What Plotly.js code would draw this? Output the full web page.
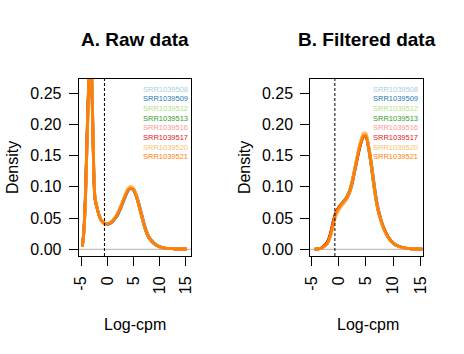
<!DOCTYPE html>
<html><head><meta charset="utf-8">
<script src="https://cdn.plot.ly/plotly-3.0.1.min.js"></script>
<style>html,body{margin:0;padding:0;background:#fff;}#chart{width:464px;height:354px;}</style>
</head><body><div id="chart"></div>
<script>
// ---- data ----
const samples = ["SRR1039508","SRR1039509","SRR1039512","SRR1039513","SRR1039516","SRR1039517","SRR1039520","SRR1039521"];
const sampleColors = ["#A6CEE3","#1F78B4","#B2DF8A","#33A02C","#FB9A99","#E31A1C","#FDBF6F","#FF7F00"];
const panelTitles = ["A. Raw data","B. Filtered data"];
const xTicks = [-5,0,5,10,15];
const yTicks = [0,0.05,0.10,0.15,0.20,0.25];
const cutoffRaw = -0.55;
const cutoffFilt = -0.7;

// raw log-cpm grid and densities
const xRaw = [-4.8,-4.6,-4.4,-4.2,-4.0,-3.8,-3.6,-3.4,-3.2,-3.0,-2.8,-2.6,-2.4,-2.2,-2.0,-1.6,-1.2,-0.8,-0.4,0,0.5,1,1.5,2,2.5,3,3.5,4,4.5,5,5.5,6,6.5,7,7.5,8,9,10,11,12,13,14,15.3];
const raw08 = [0.005,0.02,0.045,0.085,0.145,0.205,0.255,0.295,0.305,0.275,0.2,0.122,0.084,0.074,0.067,0.055,0.047,0.043,0.041,0.0405,0.042,0.045,0.05,0.057,0.066,0.077,0.088,0.096,0.099,0.097,0.088,0.074,0.058,0.042,0.029,0.019,0.009,0.004,0.002,0.0013,0.0008,0.0005,0.0003];
const raw09 = [0.004,0.017,0.04,0.078,0.135,0.195,0.248,0.30,0.315,0.285,0.21,0.13,0.087,0.075,0.068,0.055,0.047,0.043,0.041,0.040,0.041,0.044,0.049,0.055,0.064,0.074,0.085,0.094,0.098,0.097,0.089,0.076,0.06,0.044,0.030,0.020,0.010,0.0045,0.002,0.0013,0.0008,0.0005,0.0003];
const raw12 = [0.004,0.019,0.043,0.082,0.142,0.202,0.252,0.302,0.308,0.278,0.205,0.125,0.085,0.075,0.068,0.055,0.047,0.043,0.041,0.0405,0.042,0.045,0.051,0.058,0.067,0.077,0.088,0.096,0.099,0.096,0.086,0.072,0.056,0.040,0.027,0.018,0.009,0.004,0.002,0.0013,0.0008,0.0005,0.0003];
const raw13 = [0.005,0.021,0.046,0.088,0.15,0.21,0.26,0.305,0.30,0.27,0.198,0.12,0.083,0.074,0.067,0.055,0.047,0.043,0.041,0.0405,0.042,0.046,0.051,0.058,0.067,0.077,0.087,0.095,0.098,0.095,0.086,0.072,0.056,0.040,0.027,0.018,0.009,0.004,0.002,0.0013,0.0008,0.0005,0.0003];
const raw16 = [0.004,0.018,0.041,0.079,0.138,0.198,0.25,0.298,0.31,0.282,0.208,0.128,0.086,0.075,0.068,0.055,0.047,0.043,0.041,0.0405,0.042,0.045,0.05,0.057,0.066,0.076,0.087,0.096,0.099,0.097,0.088,0.073,0.057,0.041,0.028,0.019,0.009,0.004,0.002,0.0013,0.0008,0.0005,0.0003];
const raw17 = [0.006,0.022,0.048,0.09,0.152,0.212,0.262,0.30,0.298,0.265,0.195,0.118,0.082,0.073,0.067,0.055,0.047,0.043,0.041,0.0405,0.042,0.045,0.05,0.057,0.066,0.076,0.087,0.095,0.098,0.096,0.087,0.073,0.057,0.041,0.028,0.019,0.009,0.004,0.002,0.0013,0.0008,0.0005,0.0003];
const raw20 = [0.004,0.018,0.042,0.08,0.14,0.2,0.25,0.30,0.31,0.28,0.207,0.127,0.086,0.075,0.068,0.055,0.047,0.043,0.041,0.041,0.043,0.046,0.051,0.058,0.067,0.078,0.089,0.098,0.101,0.098,0.088,0.073,0.057,0.041,0.028,0.019,0.009,0.004,0.002,0.0013,0.0008,0.0005,0.0003];
const raw21 = [0.004,0.018,0.042,0.08,0.14,0.2,0.25,0.30,0.31,0.28,0.207,0.127,0.086,0.075,0.068,0.055,0.047,0.043,0.041,0.0405,0.042,0.045,0.05,0.057,0.066,0.076,0.087,0.095,0.098,0.096,0.087,0.073,0.057,0.041,0.028,0.019,0.009,0.004,0.002,0.0013,0.0008,0.0005,0.0003];

// filtered log-cpm grid and densities
const xFilt = [-4.4,-3.5,-3,-2.5,-2,-1.5,-1,-0.5,0,0.5,1,1.5,2,2.5,3,3.5,4,4.5,5,5.5,6,6.5,7,7.5,8,8.5,9,10,11,12,13,14,15.4];
const filt08 = [0.0003,0.001,0.003,0.006,0.011,0.022,0.04,0.056,0.064,0.07,0.075,0.082,0.092,0.109,0.131,0.153,0.172,0.185,0.185,0.163,0.133,0.099,0.071,0.053,0.039,0.029,0.02,0.0096,0.0048,0.0024,0.0011,0.0006,0.0003];
const filt09 = [0.0003,0.001,0.003,0.006,0.012,0.024,0.043,0.058,0.066,0.071,0.076,0.082,0.091,0.106,0.127,0.148,0.167,0.18,0.182,0.165,0.138,0.105,0.076,0.056,0.041,0.03,0.021,0.01,0.005,0.0025,0.0011,0.0006,0.0003];
const filt12 = [0.0003,0.001,0.003,0.006,0.011,0.023,0.041,0.057,0.065,0.072,0.078,0.085,0.095,0.112,0.133,0.154,0.172,0.184,0.183,0.16,0.13,0.097,0.07,0.052,0.039,0.028,0.02,0.0095,0.0047,0.0024,0.0011,0.0006,0.0003];
const filt13 = [0.0003,0.001,0.003,0.007,0.013,0.025,0.044,0.059,0.067,0.073,0.078,0.084,0.094,0.11,0.131,0.152,0.17,0.182,0.181,0.16,0.131,0.098,0.071,0.053,0.039,0.028,0.02,0.0095,0.0047,0.0024,0.0011,0.0006,0.0003];
const filt16 = [0.0003,0.001,0.002,0.005,0.01,0.021,0.039,0.055,0.063,0.069,0.074,0.08,0.09,0.106,0.128,0.15,0.169,0.182,0.183,0.163,0.135,0.102,0.074,0.055,0.04,0.029,0.02,0.0096,0.0048,0.0024,0.0011,0.0006,0.0003];
const filt17 = [0.0003,0.001,0.003,0.007,0.013,0.026,0.045,0.06,0.067,0.072,0.077,0.083,0.093,0.108,0.129,0.15,0.168,0.18,0.181,0.162,0.134,0.101,0.073,0.054,0.04,0.029,0.021,0.01,0.005,0.0025,0.0011,0.0006,0.0003];
const filt20 = [0.0003,0.001,0.002,0.005,0.01,0.02,0.037,0.053,0.062,0.069,0.075,0.082,0.093,0.11,0.132,0.154,0.173,0.186,0.186,0.164,0.134,0.1,0.072,0.053,0.039,0.028,0.02,0.0095,0.0047,0.0024,0.0011,0.0006,0.0003];
const filt21 = [0.0003,0.001,0.003,0.006,0.011,0.023,0.042,0.058,0.066,0.072,0.077,0.083,0.093,0.109,0.13,0.151,0.169,0.181,0.182,0.162,0.134,0.101,0.073,0.054,0.04,0.029,0.02,0.0096,0.0048,0.0024,0.0011,0.0006,0.0003];

const rawSets = [raw08,raw09,raw12,raw13,raw16,raw17,raw20,raw21];
const filtSets = [filt08,filt09,filt12,filt13,filt16,filt17,filt20,filt21];

// ---- layout helpers (pixel -> paper) ----
const W = 464, H = 354;
const px = v => v / W;
const py = v => 1 - v / H;
const FONT = "Liberation Sans, Arial, Helvetica, sans-serif";

const traces = [];
rawSets.forEach((ys, i) => traces.push({x: xRaw, y: ys, type: "scatter", mode: "lines", xaxis: "x", yaxis: "y",
  line: {color: sampleColors[i], width: 2.8, shape: "spline", smoothing: 0.6}, hoverinfo: "skip"}));
filtSets.forEach((ys, i) => traces.push({x: xFilt, y: ys, type: "scatter", mode: "lines", xaxis: "x2", yaxis: "y2",
  line: {color: sampleColors[i], width: 2.8, shape: "spline", smoothing: 0.6}, hoverinfo: "skip"}));

const xCommon = {tickvals: xTicks, ticktext: xTicks.map(String), tickangle: -90, ticks: "outside", ticklen: 9, tickwidth: 1, tickcolor: "#000",
  showline: true, mirror: true, linecolor: "#000", linewidth: 1, showgrid: false, zeroline: false,
  tickfont: {family: FONT, size: 16, color: "#000"}, ticklabelstandoff: 4};
const yCommon = {tickvals: yTicks, ticktext: yTicks.map(v => v.toFixed(2)), ticks: "outside", ticklen: 9, tickwidth: 1, tickcolor: "#000",
  showline: true, mirror: true, linecolor: "#000", linewidth: 1, showgrid: false, zeroline: false,
  tickfont: {family: FONT, size: 16, color: "#000"}, range: [-0.0107, 0.273], ticklabelstandoff: 4};

const yDom = [py(256), py(78.7)];
const layout = {
  width: W, height: H, margin: {l: 0, r: 0, t: 0, b: 0}, showlegend: false,
  paper_bgcolor: "#fff", plot_bgcolor: "#fff",
  xaxis: Object.assign({}, xCommon, {domain: [px(78.7), px(191.3)], range: [-5.5, 16.15], anchor: "y"}),
  yaxis: Object.assign({}, yCommon, {domain: yDom, anchor: "x"}),
  xaxis2: Object.assign({}, xCommon, {domain: [px(310.3), px(422.7)], range: [-5.21, 15.41], anchor: "y2"}),
  yaxis2: Object.assign({}, yCommon, {domain: yDom, anchor: "x2"}),
  shapes: [
    {type: "line", xref: "x domain", yref: "y", x0: 0, x1: 1, y0: 0, y1: 0, line: {color: "#BEBEBE", width: 1.3}, layer: "below"},
    {type: "line", xref: "x2 domain", yref: "y2", x0: 0, x1: 1, y0: 0, y1: 0, line: {color: "#BEBEBE", width: 1.3}, layer: "below"},
    {type: "line", xref: "x", yref: "y domain", x0: cutoffRaw, x1: cutoffRaw, y0: 0, y1: 1, line: {color: "#000", width: 1, dash: "3px,2px"}},
    {type: "line", xref: "x2", yref: "y2 domain", x0: cutoffFilt, x1: cutoffFilt, y0: 0, y1: 1, line: {color: "#000", width: 1, dash: "3px,2px"}}
  ],
  annotations: []
};

const ann = layout.annotations;
// panel titles
[[134.5, panelTitles[0]], [366.6, panelTitles[1]]].forEach(([cx, t]) =>
  ann.push({xref: "paper", yref: "paper", x: px(cx), y: py(40), xanchor: "center", yanchor: "middle", showarrow: false,
    text: "<b>" + t + "</b>", font: {family: FONT, size: 19, color: "#000"}}));
// axis titles
[12.8, 243.8].forEach(cx => ann.push({xref: "paper", yref: "paper", x: px(cx), y: py(167.3), xanchor: "center", yanchor: "middle",
  showarrow: false, text: "Density", textangle: -90, font: {family: FONT, size: 16, color: "#000"}}));
[135.2, 367.5].forEach(cx => ann.push({xref: "paper", yref: "paper", x: px(cx), y: py(324.5), xanchor: "center", yanchor: "middle",
  showarrow: false, text: "Log-cpm", font: {family: FONT, size: 16, color: "#000"}}));
// legends (text only, coloured)
[189.5, 419.5].forEach(rx => samples.forEach((s, i) => ann.push({xref: "paper", yref: "paper", x: px(rx), y: py(89 + 9.7 * i),
  xanchor: "right", yanchor: "middle", showarrow: false, text: s, font: {family: FONT, size: 7.5, color: sampleColors[i]}})));

Plotly.newPlot("chart", traces, layout, {staticPlot: true, displayModeBar: false});
</script></body></html>
